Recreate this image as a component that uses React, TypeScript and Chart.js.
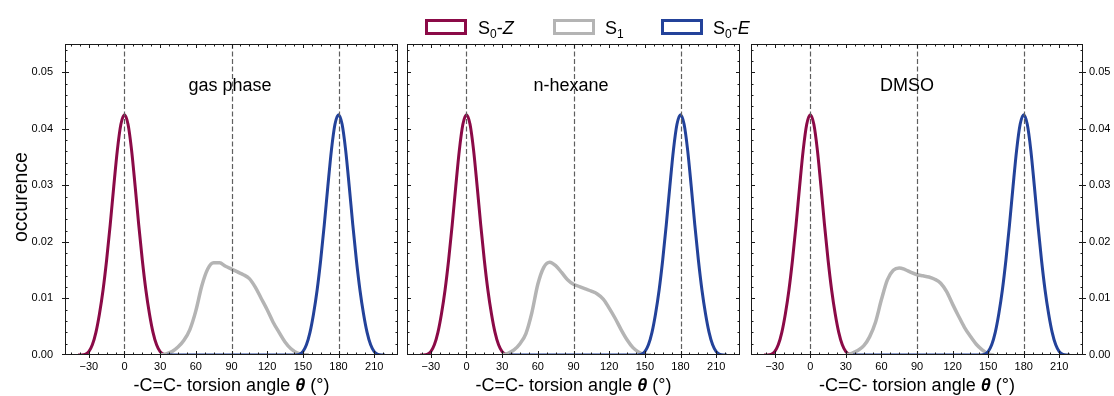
import React, { useEffect, useRef } from 'react';
import { Chart, registerables } from 'chart.js';
Chart.register(...registerables);

// ---------- data ----------
const panelTitles = ['gas phase', 'n-hexane', 'DMSO'];
const xTickValues = [-30, 0, 30, 60, 90, 120, 150, 180, 210];
const yTickValues = [0, 0.01, 0.02, 0.03, 0.04, 0.05];
const refAngles = [0, 90, 180];

const s0zAngles = [-39, -36, -33, -30, -27, -24, -21, -18, -15, -12, -9, -6, -3, 0, 3, 6, 9, 12, 15, 18, 21, 24, 27, 30, 33, 36, 39];
const s0zValues = [0, 0, 0.0001, 0.0006, 0.0018, 0.004, 0.0073, 0.0115, 0.0168, 0.023, 0.0298, 0.0362, 0.0408, 0.0425, 0.0408, 0.0362, 0.0298, 0.023, 0.0168, 0.0115, 0.0073, 0.004, 0.0018, 0.0006, 0.0001, 0, 0];

const s0eAngles = [36, 141, 144, 147, 150, 153, 156, 159, 162, 165, 168, 171, 174, 177, 180, 183, 186, 189, 192, 195, 198, 201, 204, 207, 210, 213, 216, 219];
const s0eValues = [0, 0, 0, 0.0001, 0.0006, 0.0018, 0.004, 0.0073, 0.0115, 0.0168, 0.023, 0.0298, 0.0362, 0.0408, 0.0425, 0.0408, 0.0362, 0.0298, 0.023, 0.0168, 0.0115, 0.0073, 0.004, 0.0018, 0.0006, 0.0001, 0, 0];

const s1Angles = [30, 35, 40, 45, 50, 55, 60, 65, 70, 75, 80, 85, 90, 95, 100, 105, 110, 115, 120, 125, 130, 135, 140, 145, 150, 155];
const s1Gas = [0, 0.0002, 0.0006, 0.0014, 0.0026, 0.0045, 0.0078, 0.0122, 0.0152, 0.0163, 0.0163, 0.0157, 0.0152, 0.0147, 0.0142, 0.0135, 0.012, 0.01, 0.008, 0.0058, 0.004, 0.0023, 0.0011, 0.0004, 0.0001, 0];
const s1Hexane = [0, 0.0003, 0.0009, 0.002, 0.0038, 0.0075, 0.0125, 0.0155, 0.0164, 0.0158, 0.0146, 0.0133, 0.0125, 0.0121, 0.0117, 0.0113, 0.0108, 0.0099, 0.0083, 0.0065, 0.0045, 0.0027, 0.0013, 0.0005, 0.0001, 0];
const s1Dmso = [0, 0.0003, 0.0008, 0.0016, 0.0032, 0.0058, 0.0098, 0.0133, 0.015, 0.0154, 0.0151, 0.0146, 0.0142, 0.014, 0.0138, 0.0134, 0.0127, 0.0112, 0.009, 0.0069, 0.0049, 0.0033, 0.0019, 0.0009, 0.0002, 0];
const s1Series = [s1Gas, s1Hexane, s1Dmso];

// ---------- style ----------
const RED = '#8b0a47';
const GRAY = '#b4b4b4';
const BLUE = '#23429a';
const FONT = '"Liberation Sans", Arial, sans-serif';

type YMode = 'left' | 'none' | 'right';

const panelLayout = [
  { canvasLeft: 0, canvasWidth: 402, yMode: 'left' as YMode, center: 231.5, titleCenter: 230 },
  { canvasLeft: 403, canvasWidth: 341, yMode: 'none' as YMode, center: 573.5, titleCenter: 571 },
  { canvasLeft: 747, canvasWidth: 367, yMode: 'right' as YMode, center: 917, titleCenter: 907 },
];

function makeFramePlugin(yMode: YMode) {
  return {
    id: 'frameTicks',
    afterDatasetsDraw(chart: any) {
      const { ctx, chartArea } = chart;
      const { left, right, top, bottom } = chartArea;
      const xs = chart.scales.x;
      const ys = chart.scales.y;
      ctx.save();
      // dashed reference lines
      ctx.strokeStyle = '#5f5f5f';
      ctx.lineWidth = 1.2;
      ctx.setLineDash([5, 2.5]);
      refAngles.forEach((a) => {
        const px = Math.round(xs.getPixelForValue(a)) + 0.5;
        ctx.beginPath();
        ctx.moveTo(px, top);
        ctx.lineTo(px, bottom);
        ctx.stroke();
      });
      ctx.setLineDash([]);
      // frame
      ctx.strokeStyle = '#1a1a1a';
      ctx.lineWidth = 1;
      ctx.strokeRect(left + 0.5, top + 0.5, right - left - 1, bottom - top - 1);
      // ticks
      const line = (x1: number, y1: number, x2: number, y2: number) => {
        ctx.beginPath();
        ctx.moveTo(x1, y1);
        ctx.lineTo(x2, y2);
        ctx.stroke();
      };
      const MAJ = 4, MIN = 2.5, OUT = 3;
      for (let v = -45; v <= 225; v += 7.5) {
        const px = Math.round(xs.getPixelForValue(v)) + 0.5;
        const major = Math.abs(v % 30) < 1e-6;
        const len = major ? MAJ : MIN;
        line(px, bottom + (major ? OUT : 0), px, bottom - len);
        line(px, top, px, top + len);
      }
      for (let i = 1; i <= 27; i++) {
        const v = i * 0.002;
        if (v > 0.055) break;
        const py = Math.round(ys.getPixelForValue(v)) + 0.5;
        const major = i % 5 === 0;
        const len = major ? MAJ : MIN;
        line(left - (major && yMode === 'left' ? OUT : 0), py, left + len, py);
        line(right + (major && yMode === 'right' ? OUT : 0), py, right - len, py);
      }
      {
        const py = bottom - 0.5;
        line(left - (yMode === 'left' ? OUT : 0), py, left + MAJ, py);
        line(right + (yMode === 'right' ? OUT : 0), py, right - MAJ, py);
      }
      ctx.restore();
    },
  };
}

function Panel({ index }: { index: number }) {
  const ref = useRef<HTMLCanvasElement>(null);
  const lay = panelLayout[index];
  useEffect(() => {
    const yMode = lay.yMode;
    const s1 = s1Series[index];
    const chart = new Chart(ref.current as HTMLCanvasElement, {
      type: 'line',
      data: {
        datasets: [
          {
            label: 'S0-E',
            data: s0eAngles.map((a, i) => ({ x: a, y: s0eValues[i] })),
            borderColor: BLUE,
            borderWidth: 3,
            cubicInterpolationMode: 'monotone',
            pointRadius: 0,
            fill: false,
          },
          {
            label: 'S1',
            data: s1Angles.map((a, i) => ({ x: a, y: s1[i] })),
            borderColor: GRAY,
            borderWidth: 3.5,
            cubicInterpolationMode: 'monotone',
            pointRadius: 0,
            fill: false,
          },
          {
            label: 'S0-Z',
            data: s0zAngles.map((a, i) => ({ x: a, y: s0zValues[i] })),
            borderColor: RED,
            borderWidth: 3,
            cubicInterpolationMode: 'monotone',
            pointRadius: 0,
            fill: false,
          },
        ],
      } as any,
      options: {
        responsive: false,
        animation: false,
        devicePixelRatio: 1,
        layout: {
          padding: {
            top: 44,
            bottom: 0,
            left: yMode === 'right' ? 4 : 0,
            right: yMode === 'right' ? 0 : 4,
          },
        },
        plugins: { legend: { display: false }, tooltip: { enabled: false } },
        scales: {
          x: {
            type: 'linear',
            min: -50,
            max: 230,
            position: 'bottom',
            grid: { display: false, drawTicks: false },
            border: { display: false },
            afterBuildTicks: (s: any) => {
              s.ticks = xTickValues.map((v) => ({ value: v }));
            },
            afterFit: (s: any) => {
              s.height = 41;
            },
            ticks: {
              color: '#000',
              font: { family: FONT, size: 11 },
              padding: 5,
              maxRotation: 0,
              autoSkip: false,
              callback: (v: any) => (Number(v) < 0 ? '\u2212' + Math.abs(Number(v)) : String(v)),
            },
          },
          y: {
            type: 'linear',
            min: 0,
            max: 0.055,
            position: yMode === 'right' ? 'right' : 'left',
            grid: { display: false, drawTicks: false },
            border: { display: false },
            afterBuildTicks: (s: any) => {
              s.ticks = yTickValues.map((v) => ({ value: v }));
            },
            afterFit: (s: any) => {
              s.width = yMode === 'left' ? 65 : yMode === 'right' ? 31 : 4;
            },
            ticks: {
              display: yMode !== 'none',
              color: '#000',
              font: { family: FONT, size: 11 },
              padding: yMode === 'left' ? 12 : 6,
              callback: (v: any) => Number(v).toFixed(2),
            },
          },
        },
      } as any,
      plugins: [makeFramePlugin(yMode)],
    });
    return () => chart.destroy();
  }, []);
  return (
    <canvas
      ref={ref}
      width={lay.canvasWidth}
      height={396}
      style={{ position: 'absolute', left: lay.canvasLeft, top: 0, width: lay.canvasWidth, height: 396 }}
    />
  );
}

const textBase: React.CSSProperties = {
  position: 'absolute',
  fontFamily: FONT,
  fontSize: 18,
  lineHeight: '18px',
  color: '#000',
  whiteSpace: 'nowrap',
};

const sub: React.CSSProperties = { fontSize: 12, position: 'relative', top: 4 };

function LegendBox({ left, color }: { left: number; color: string }) {
  return (
    <div
      style={{
        position: 'absolute',
        left,
        top: 19,
        width: 42,
        height: 16,
        boxSizing: 'border-box',
        border: `3px solid ${color}`,
      }}
    />
  );
}

export default function App() {
  return (
    <div style={{ position: 'absolute', left: 0, top: 0, width: 1114, height: 396, background: '#fff', overflow: 'hidden' }}>
      {[0, 1, 2].map((i) => (
        <Panel key={i} index={i} />
      ))}
      {/* legend */}
      <LegendBox left={425} color={RED} />
      <div style={{ ...textBase, left: 478, top: 19 }}>
        S<span style={sub}>0</span>-<i>Z</i>
      </div>
      <LegendBox left={553} color={GRAY} />
      <div style={{ ...textBase, left: 605, top: 19 }}>
        S<span style={sub}>1</span>
      </div>
      <LegendBox left={661} color={BLUE} />
      <div style={{ ...textBase, left: 713, top: 19 }}>
        S<span style={sub}>0</span>-<i>E</i>
      </div>
      {/* panel titles */}
      {panelLayout.map((p, i) => (
        <div key={'t' + i} style={{ ...textBase, left: p.titleCenter, top: 76, transform: 'translateX(-50%)' }}>
          {panelTitles[i]}
        </div>
      ))}
      {/* x axis titles */}
      {panelLayout.map((p, i) => (
        <div key={'x' + i} style={{ ...textBase, left: p.center, top: 376, transform: 'translateX(-50%)' }}>
          -C=C- torsion angle <b><i>θ</i></b> (°)
        </div>
      ))}
      {/* y axis title */}
      <div style={{ ...textBase, fontSize: 19.5, left: 20, top: 197, transform: 'translate(-50%, -50%) rotate(-90deg)' }}>occurence</div>
    </div>
  );
}
